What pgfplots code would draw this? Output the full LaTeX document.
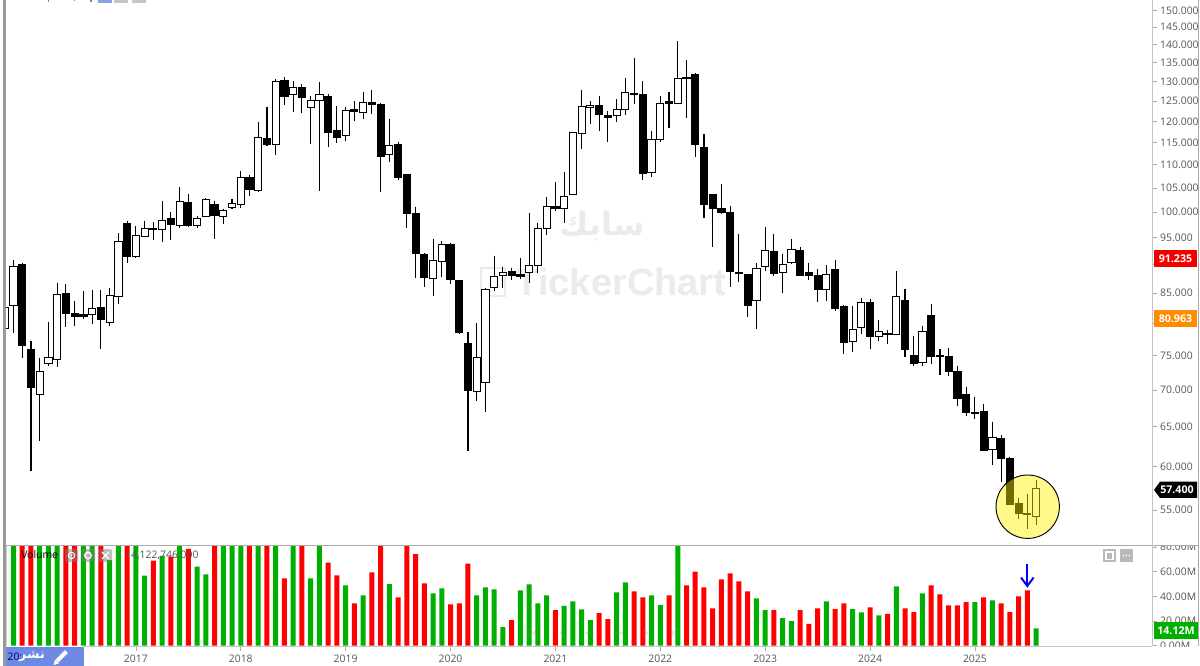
\documentclass[border=0pt]{standalone}
\usepackage{pgfplots}
\pgfplotsset{compat=1.18}
\usepackage{pgfplotstable}
\usepackage{fontspec}
\setmainfont{Open Sans}
\newfontfamily\arabicfont[Script=Arabic]{DejaVu Sans}
\newfontfamily\wmfont{Liberation Sans}
\TeXXeTstate=1
\definecolor{tickgray}{HTML}{555555}
\definecolor{framegray}{HTML}{AAAAAA}
\definecolor{volgreen}{HTML}{00B000}
\definecolor{volred}{HTML}{FF0000}
\definecolor{wmgray}{HTML}{EBEBEB}
\definecolor{pill}{HTML}{6C8AE4}
\pgfplotstableread{
i o h l c
-1 79.13 82.54 79.13 82.54
0 82.88 90.87 78.50 89.65
1 90.00 90.30 74.68 76.47
2 75.86 77.30 59.51 70.33
3 69.41 74.64 63.23 72.65
4 73.87 80.27 73.48 74.68
5 74.35 86.85 73.23 84.82
6 84.98 86.57 79.39 81.54
7 81.59 83.76 79.64 81.09
8 81.49 85.33 80.72 81.05
9 81.43 85.56 79.91 82.49
10 82.54 85.56 75.96 80.67
11 80.10 85.86 79.64 84.54
12 84.42 95.88 83.16 94.27
13 97.77 98.35 90.37 91.43
14 91.56 97.31 91.19 95.41
15 95.35 98.35 95.10 96.73
16 96.79 98.04 94.59 96.67
17 96.59 102.38 94.16 98.35
18 98.75 100.00 94.59 97.65
19 97.37 105.14 96.86 102.18
20 101.97 103.76 97.18 97.37
21 97.45 99.33 96.98 98.75
22 99.14 102.94 99.02 102.67
23 101.56 102.38 94.72 99.27
24 99.14 100.76 97.71 100.27
25 101.03 102.73 100.68 101.77
26 101.64 108.73 100.82 107.30
27 107.30 107.80 103.35 104.73
28 104.44 119.81 104.11 116.27
29 115.87 123.63 114.25 114.48
30 114.64 130.69 112.21 130.15
31 130.23 131.14 124.04 126.13
32 126.64 130.23 122.26 128.54
33 128.44 129.31 122.16 125.87
34 123.55 126.26 114.71 125.10
35 125.20 129.97 104.44 126.64
36 126.31 126.75 114.10 117.36
37 117.76 123.87 114.86 116.11
38 116.58 123.63 115.33 122.65
39 122.89 125.10 120.20 122.40
40 122.26 127.26 120.61 124.78
41 124.71 127.77 121.84 124.12
42 124.12 124.46 104.24 111.79
43 112.29 120.54 110.57 114.32
44 114.55 115.24 106.72 107.30
45 107.80 107.90 96.86 99.86
46 99.67 101.15 87.62 91.99
47 91.86 92.23 86.15 87.67
48 87.62 94.78 84.54 90.82
49 90.56 94.40 87.90 93.79
50 93.79 93.98 86.57 87.45
51 87.20 87.30 78.30 78.61
52 76.83 78.71 61.89 69.95
53 69.85 80.02 68.41 74.78
54 71.10 85.91 66.98 85.68
55 85.98 91.67 85.39 87.97
56 88.02 89.55 85.98 88.67
57 88.78 89.48 87.20 88.02
58 88.20 91.30 87.50 87.97
59 88.55 99.86 86.75 89.83
60 89.83 97.96 88.60 96.73
61 96.73 103.21 95.55 101.24
62 101.16 106.22 100.27 100.68
63 100.82 108.38 97.84 103.29
64 103.62 117.36 103.46 117.29
65 117.22 127.85 113.51 123.80
66 123.38 125.10 119.48 123.97
67 123.87 126.31 117.83 121.67
68 121.35 122.57 115.09 120.86
69 121.52 125.54 119.81 122.82
70 122.82 130.88 121.59 127.26
71 126.90 136.24 124.29 126.64
72 126.64 130.23 106.65 108.08
73 108.38 117.83 107.43 115.80
74 115.80 126.26 115.24 124.36
75 124.85 127.34 118.40 124.53
76 124.36 141.05 124.17 130.77
77 131.04 135.78 120.80 130.77
78 131.75 132.21 111.70 114.48
79 113.96 116.99 98.82 101.52
80 103.62 103.76 93.34 100.68
81 100.74 105.86 99.67 100.06
82 99.92 101.35 86.03 88.72
83 88.60 95.69 86.92 88.37
84 88.32 88.37 81.00 82.93
85 83.82 90.25 79.13 89.25
86 89.65 97.18 88.95 92.54
87 92.49 95.80 88.02 88.43
88 88.67 91.99 85.09 90.13
89 90.37 94.78 90.22 92.79
90 92.67 93.23 88.02 88.15
91 88.67 90.37 87.32 88.07
92 88.02 89.25 83.59 85.56
93 85.56 89.90 83.71 88.25
94 89.20 90.85 81.96 82.43
95 82.83 82.96 75.19 76.94
96 77.14 82.88 75.58 79.08
97 79.33 84.15 78.30 83.37
98 83.37 84.04 75.96 77.93
99 77.93 80.55 77.30 78.71
100 78.46 79.02 76.74 78.30
101 78.19 88.85 78.11 84.37
102 83.76 85.68 74.83 75.96
103 74.97 78.08 73.38 73.77
104 74.01 79.59 73.52 78.66
105 81.22 83.21 73.77 74.83
106 74.97 75.96 72.17 74.83
107 74.83 76.12 71.93 72.65
108 72.61 73.38 67.83 68.87
109 69.35 70.46 66.36 66.96
110 66.86 69.08 66.01 66.73
111 67.04 68.04 61.89 61.98
112 62.06 65.69 60.21 63.60
113 63.56 63.89 58.16 60.96
114 60.96 61.13 55.60 55.66
115 55.77 56.35 53.98 54.64
116 54.59 56.84 52.91 54.48
117 54.34 58.39 53.35 57.40
}\candles
\pgfplotstableread{
i v
0 90
3 90
4 90
5 90
8 90
9 90
11 69.4
12 90
14 90
15 56.7
17 72.7
19 90
21 64.0
22 57.8
24 90
25 90
26 90
28 90
30 90
32 90
34 54.6
35 90
38 48.9
40 40.8
43 50.0
48 42.4
49 46.5
53 40.8
54 47.3
55 45.7
56 15.1
58 44.9
59 49.7
60 34.3
61 40.8
63 32.2
64 35.9
65 29.5
66 20.8
69 43.2
70 51.3
73 40.8
74 33.0
76 90
85 38.4
86 28.9
88 22.4
89 20.0
93 35.9
96 29.7
97 27.0
99 24.6
101 48.1
104 42.4
110 35.4
112 36.7
117 14.12
}\volup
\pgfplotstableread{
i v
1 90
2 90
6 90
7 90
10 90
13 90
16 68.9
18 72.1
20 78.4
23 90
27 90
29 90
31 54.6
33 90
36 67.3
37 57.0
39 34.3
41 59.4
42 90
44 39.2
45 90
46 74.3
47 50.5
50 33.5
51 34.3
52 66.5
57 20.8
62 28.9
67 26.5
68 21.6
71 44.0
72 39.2
75 40.8
77 48.9
78 60.0
79 47.3
80 30.3
81 53.8
82 58.6
83 52.1
84 44.0
87 28.9
90 28.9
91 17.6
92 30.3
94 29.7
95 34.3
98 31.1
100 25.7
102 30.3
103 27.3
105 48.9
106 41.6
107 32.7
108 32.7
109 35.4
111 39.2
113 34.3
114 27.3
115 40.0
116 44.9
}\voldown
\newcommand\ticksize{\fontsize{7.8}{9.4}\selectfont}
\begin{document}
\begin{tikzpicture}
\path[use as bounding box,fill=white] (0,0) rectangle (900pt,-499.5pt);
% watermark
\begin{scope}[x=0.75pt,y=-0.75pt]
\node[text=wmgray,font=\wmfont\bfseries\fontsize{28.5}{30}\selectfont,inner sep=0pt] at (621,282) {TickerChart};
\draw[wmgray,line width=1pt] (481,268) rectangle (505,296);
\node[text=wmgray,font=\arabicfont\bfseries\fontsize{24}{28}\selectfont,inner sep=0pt] at (602,226) {\beginR سابك\endR};
\end{scope}
% price axis
\begin{axis}[
  at={(3.75pt,-408.75pt)},anchor=south west,
  scale only axis,width=860.25pt,height=408.75pt,
  xmin=-0.973,xmax=130.26,
  ymode=log,ymin=51.27,ymax=153.17,
  axis line style={draw=none},
  xtick=\empty,
  ytick={55,60,65,70,75,80,85,90,95,100,105,110,115,120,125,130,135,140,145,150},
  yticklabels={55.000,60.000,65.000,70.000,75.000,,85.000,,95.000,100.000,105.000,110.000,115.000,120.000,125.000,130.000,135.000,140.000,145.000,150.000},
  yminorticks=false,
  ytick pos=right,yticklabel pos=right,
  tick align=outside,major tick length=3.75pt,
  tick style={draw=framegray,line width=.5pt},
  yticklabel style={font=\ticksize,text=tickgray,inner sep=0pt,xshift=2.2pt},
]
\pgfplotsinvokeforeach{0,...,118}{
  \pgfplotstablegetelem{#1}{i}\of\candles\let\vi\pgfplotsretval
  \pgfplotstablegetelem{#1}{o}\of\candles\let\vo\pgfplotsretval
  \pgfplotstablegetelem{#1}{h}\of\candles\let\vh\pgfplotsretval
  \pgfplotstablegetelem{#1}{l}\of\candles\let\vl\pgfplotsretval
  \pgfplotstablegetelem{#1}{c}\of\candles\let\vc\pgfplotsretval
  \pgfmathsetmacro\xa{\vi-0.41}
  \pgfmathsetmacro\xb{\vi+0.41}
  \addplot[black,line width=.8pt,forget plot] coordinates {(\vi,\vh)(\vi,\vl)};
  \ifdim\vo pt>\vc pt
    \addplot[draw=black,fill=black,line width=.7pt,forget plot] coordinates {(\xa,\vo)(\xb,\vo)(\xb,\vc)(\xa,\vc)} -- cycle;
  \else
    \addplot[draw=black,fill=white,line width=.7pt,forget plot] coordinates {(\xa,\vo)(\xb,\vo)(\xb,\vc)(\xa,\vc)} -- cycle;
  \fi
}
\end{axis}
% volume axis
\begin{axis}[
  at={(3.75pt,-484.275pt)},anchor=south west,
  scale only axis,width=860.25pt,height=74.775pt,
  xmin=-0.973,xmax=130.26,
  ymin=0,ymax=80.8,
  ybar,bar width=3.75pt,bar shift=0pt,
  axis line style={draw=none},
  xtick={14,26,38,50,62,74,86,98,110},
  xticklabels={2017,2018,2019,2020,2021,2022,2023,2024,2025},
  xtick pos=bottom,
  ytick={0,20,40,60,80},
  yticklabels={0.00M,20.00M,40.00M,60.00M,80.00M},
  ytick pos=right,yticklabel pos=right,
  tick align=outside,major tick length=3.75pt,
  tick style={draw=framegray,line width=.5pt},
  yticklabel style={font=\ticksize,text=tickgray,inner sep=0pt,xshift=2.2pt},
  xticklabel style={font=\ticksize,text=tickgray,inner sep=0pt,yshift=-3pt},
]
\addplot[fill=volgreen,draw=none] table[x=i,y=v] {\volup};
\addplot[fill=volred,draw=none] table[x=i,y=v] {\voldown};
\addplot[fill=volgreen!30,draw=none] coordinates {(-1,90)};
\end{axis}
% annotations, in pixel units from the top left corner
\begin{scope}[x=0.75pt,y=-0.75pt]
\fill[white] (1153,535) rectangle (1198,545.5);
\fill[white] (1153,646.5) rectangle (1198,666);
\draw[framegray,line width=.75pt] (5,545.7) -- (1199,545.7);
\draw[framegray!70,line width=.75pt] (84,646.7) -- (1152.3,646.7);
\draw[framegray!70,line width=.75pt] (1152.3,0) -- (1152.3,646);
\draw[framegray,line width=.75pt] (1198.3,0) -- (1198.3,646);
\draw[black!40,line width=2pt] (4.7,0) -- (4.7,666);
% cut-off toolbar at the top edge
\fill[pill!80] (98,0) rectangle (112,3);
\fill[gray!45] (114,0) rectangle (128,3);
\fill[gray!45] (132,0) rectangle (146,3);
\fill[gray] (47.5,0) rectangle (49,1.7);
\fill[gray] (73.5,0) rectangle (75,1);
\fill[gray] (90,0) rectangle (91.5,1.7);
% faint navigation marks over the volume bars
\begin{scope}[fill opacity=.18]
\fill[gray] (528,628) rectangle (530,638);
\fill[gray] (538,628) -- (531,633) -- (538,638) -- cycle;
\fill[gray] (565,628) -- (559,633) -- (565,638) -- cycle;
\fill[gray] (585,632) rectangle (594,634);
\fill[gray] (613,632) rectangle (623,634);
\fill[gray] (617,628) rectangle (619,638);
\fill[gray] (643,628) -- (649,633) -- (643,638) -- cycle;
\fill[gray] (670,628) -- (677,633) -- (670,638) -- cycle;
\fill[gray] (677,628) rectangle (679,638);
\end{scope}
% highlight
\draw[black,line width=.7pt,fill=yellow,fill opacity=.45] (1027.7,506.7) circle (31.7);
% arrow
\draw[blue,line width=1.5pt] (1027.3,564) -- (1027.3,585);
\draw[blue,line width=1.5pt] (1021,577.5) -- (1027.3,586) -- (1033.6,577.5);
% price tags
\fill[red!95!black] (1153.5,250) rectangle (1197,267);
\node[text=white,font=\fontsize{8}{9.6}\selectfont\bfseries,inner sep=0pt] at (1175.5,258.5) {91.235};
\fill[orange!90!yellow] (1153.5,310) rectangle (1197,327);
\node[text=white,font=\fontsize{8}{9.6}\selectfont\bfseries,inner sep=0pt] at (1175.5,318.5) {80.963};
\fill[black] (1154,490) -- (1160,481.7) -- (1197,481.7) -- (1197,498) -- (1160,498) -- cycle;
\node[text=white,font=\fontsize{8}{9.6}\selectfont\bfseries,inner sep=0pt] at (1177,490) {57.400};
\fill[volgreen] (1153.5,621.7) rectangle (1198,639);
\node[text=white,font=\fontsize{8}{9.6}\selectfont\bfseries,inner sep=0pt] at (1176,630.3) {14.12M};
% volume legend
\node[anchor=west,text=black,font=\ticksize,inner sep=0pt] at (21,555) {Volume};
\foreach \xx in {65,82,99} {\fill[gray,opacity=.5,rounded corners=1pt] (\xx,549) rectangle (\xx+13,562);}
\draw[white,line width=.8pt] (71.5,555.5) circle (3.2);
\fill[white] (71.5,555.5) circle (1);
\draw[white,line width=1pt] (88,555.5) circle (3.2);
\draw[white,line width=1pt] (102,552) -- (109,559) (109,552) -- (102,559);
\node[anchor=west,text=tickgray,font=\ticksize,inner sep=0pt] at (125,555) {14,122,746.000};
\fill[gray!55] (1103,549) rectangle (1116,562);
\draw[white,line width=.8pt] (1106,552) rectangle (1113,559.5);
\fill[gray!55] (1120,549) rectangle (1133,562);
\foreach \xx in {1123.5,1126.5,1129.5} {\fill[white] (\xx,555.5) circle (.8);}
% publish pill
\fill[pill] (5.8,647.3) rectangle (84,666);
\node[text=black!60!blue,font=\ticksize,inner sep=0pt] at (15,657) {20:};
\node[text=white,font=\arabicfont\bfseries\fontsize{9.5}{11}\selectfont,inner sep=0pt] at (32,656.5) {\beginR نشر\endR};
\draw[white,line width=3pt] (57,661) -- (66.5,651.5);
\fill[white] (53.5,665) -- (59,663.5) -- (55,659.5) -- cycle;
\end{scope}
\end{tikzpicture}
\end{document}
